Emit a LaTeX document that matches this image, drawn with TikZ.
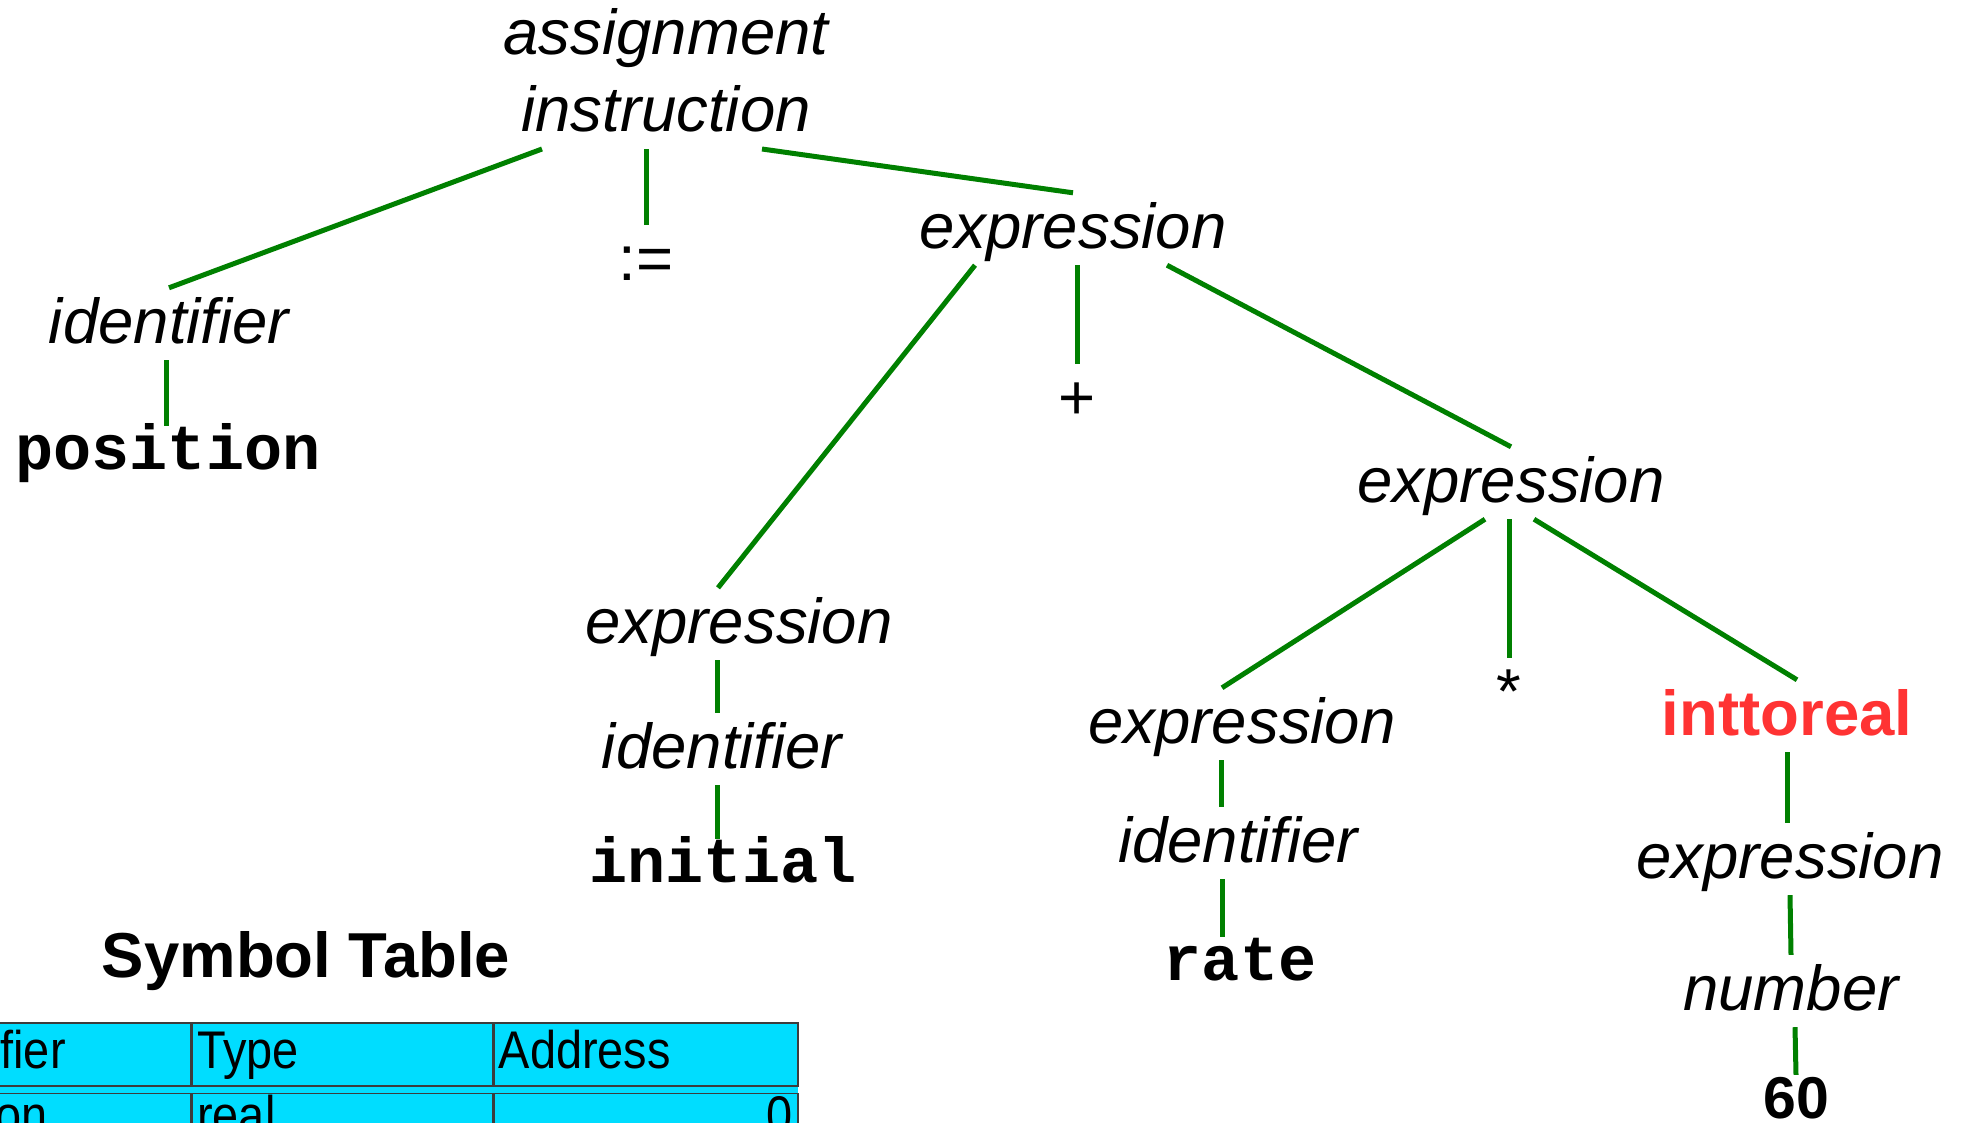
\documentclass[tikz,border=0pt]{standalone}
\usepackage{fontspec}
\setmainfont{Liberation Sans}
\newfontfamily\codefont{Liberation Mono}
\newfontfamily\narrowfont[FakeStretch=0.885]{Liberation Sans}
\usepackage{xcolor}
\definecolor{vert}{RGB}{0,128,0}
\definecolor{Rouge}{RGB}{255,51,51}
\definecolor{bleu}{RGB}{0,221,255}
\definecolor{Gris}{RGB}{60,60,60}
\usepackage{tikz}
\usetikzlibrary{calc,positioning}

\tikzset{
  big/.style={font=\fontsize{63.5}{77}\selectfont},
  nt/.style={big,font=\fontsize{63.5}{77}\selectfont\itshape,text height=51pt,text depth=13pt,inner sep=4pt,anchor=base},
  tok/.style={font=\fontsize{63.5}{77}\selectfont\codefont\bfseries,text height=39pt,text depth=13pt,inner sep=4pt,anchor=base},
  op/.style={big,text height=51pt,text depth=13pt,inner sep=4pt,anchor=base},
  conv/.style={font=\fontsize{63.5}{77}\selectfont\bfseries,Rouge,text height=51pt,text depth=13pt,inner sep=4pt,anchor=base},
  numtok/.style={font=\fontsize{59}{70}\selectfont\bfseries,text height=42pt,text depth=13pt,inner sep=1pt,anchor=base},
  edge/.style={draw=vert,line width=5pt},
  cell/.style={draw=Gris,fill=bleu,line width=1.5pt,anchor=north west,font=\fontsize{53}{60}\selectfont\narrowfont,
    text height=38pt,text depth=10pt,inner xsep=5pt,inner ysep=7.5pt,align=left}
}

\begin{document}
\begin{tikzpicture}[x=1pt,y=-1pt]
\useasboundingbox (0,0) rectangle (1964,1122);
% parse tree
\node[font=\fontsize{63.5}{77}\selectfont\itshape,align=center,anchor=south,inner xsep=4pt,inner ysep=17pt] (root) at (666,149) {assignment\\instruction};
\node[nt] (id1) at (169,343) {identifier};
\node[tok] (pos) at (168,469) {position};
\node[op] (asg) at (646,280) {:=};
\node[nt] (e1) at (1073,248) {expression};
\node[op] (plus) at (1077,419) {+};
\node[nt] (e2) at (739,643) {expression};
\node[nt] (id2) at (722,768) {identifier};
\node[tok] (init) at (723,882) {initial};
\node[nt] (e3) at (1511,502) {expression};
\node[nt] (e4) at (1242,743) {expression};
\node[nt] (id3) at (1238,862) {identifier};
\node[tok] (rate) at (1240,980) {rate};
\node[op] (times) at (1509,713) {*};
\node[conv] (conv) at (1787,735) {inttoreal};
\node[nt] (e5) at (1790,878) {expression};
\node[nt] (num) at (1791,1010) {number};
\node[numtok] (sixty) at (1796,1118) {60};

\draw[edge] ([xshift=-124pt]root.south) -- (id1.north);
\draw[edge] ([xshift=-20pt]root.south) -- (asg.north);
\draw[edge] ([xshift=96pt]root.south) -- (e1.north);
\draw[edge] ([xshift=-3pt]id1.south) -- ([xshift=-2pt]pos.north);
\draw[edge] ([xshift=-98pt]e1.south) -- ([xshift=-21pt]e2.north);
\draw[edge] ([xshift=4pt]e1.south) -- (plus.north);
\draw[edge] ([xshift=94pt]e1.south) -- (e3.north);
\draw[edge] ([xshift=-22pt]e2.south) -- ([xshift=-5pt]id2.north);
\draw[edge] ([xshift=-5pt]id2.south) -- ([xshift=-6pt]init.north);
\draw[edge] ([xshift=-26pt]e3.south) -- ([xshift=-20pt]e4.north);
\draw[edge] ([xshift=-2pt]e3.south) -- (times.north);
\draw[edge] ([xshift=23pt]e3.south) -- ([xshift=10pt]conv.north);
\draw[edge] ([xshift=-21pt]e4.south) -- ([xshift=-17pt]id3.north);
\draw[edge] ([xshift=-16pt]id3.south) -- ([xshift=-18pt]rate.north);
\draw[edge] (conv.south) -- ([xshift=-3pt]e5.north);
\draw[edge] (e5.south) -- (num.north);
\draw[edge] ([xshift=4pt]num.south) -- (sixty.north);

% symbol table
\node[font=\fontsize{63.5}{77}\selectfont\bfseries,anchor=base] (title) at (306,977) {Symbol Table};
\fill[bleu] (-120,1022) rectangle (798,1160);
\node[cell,text width=300pt] (h1) at (-120,1022) {Identifier};
\node[cell,text width=290pt] (h2) at (h1.north east) {Type};
\node[cell,text width=294pt] (h3) at (h2.north east) {Address};
\node[cell,text width=300pt,inner ysep=2pt] (r1) at ($(h1.south west)+(0,6)$) {position};
\node[cell,text width=290pt,inner ysep=2pt] (r2) at (r1.north east) {real};
\node[cell,text width=294pt,inner ysep=2pt,align=right] (r3) at (r2.north east) {0};
\end{tikzpicture}
\end{document}
